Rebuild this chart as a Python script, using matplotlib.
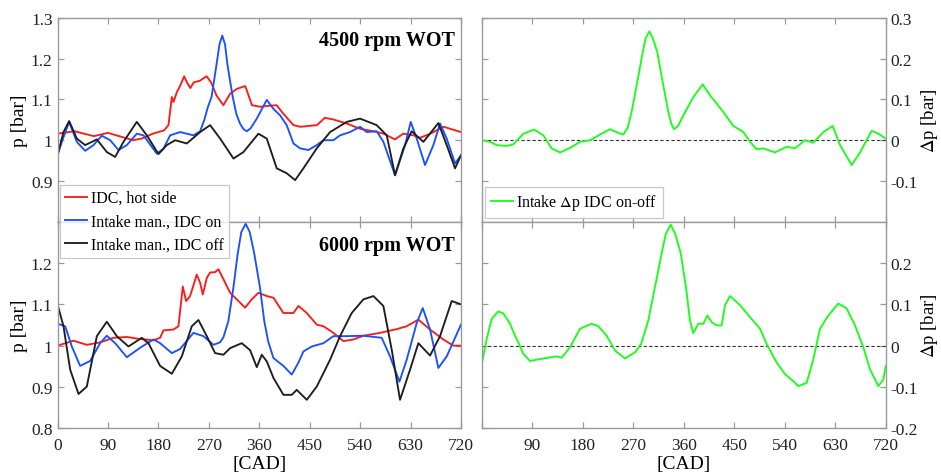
import matplotlib
matplotlib.use("Agg")
import matplotlib.pyplot as plt
from matplotlib.lines import Line2D

plt.rcParams['font.family'] = ['Liberation Serif', 'DejaVu Serif']
plt.rcParams['mathtext.fontset'] = 'stix'

# ---------------- data: 4500 rpm WOT ----------------
red45_x = [0, 30, 65, 90, 120, 135, 150, 170, 190, 198, 204, 207, 213, 219, 226, 231, 237, 243, 254, 266,
           274, 284, 296, 308, 320, 335, 347, 362, 373, 391, 403, 421, 433, 463, 477, 492, 516, 540, 564,
           582, 602, 617, 635, 647, 665, 689, 720]
red45_y = [1.016, 1.022, 1.010, 1.018, 1.006, 1.000, 1.004, 1.016, 1.024, 1.037, 1.106, 1.094, 1.118, 1.134,
           1.157, 1.142, 1.128, 1.142, 1.146, 1.157, 1.142, 1.109, 1.086, 1.114, 1.126, 1.133, 1.086, 1.082,
           1.084, 1.086, 1.065, 1.037, 1.033, 1.037, 1.055, 1.051, 1.041, 1.028, 1.022, 1.016, 1.002, 1.016,
           1.012, 1.006, 1.016, 1.033, 1.020]

blue45_x = [0, 7.7, 20.8, 34.5, 49.4, 64.2, 79, 94, 108.8, 123.7, 141.5, 153.4, 177.2, 189, 201, 218.8, 242.6,
            254.5, 262, 268, 275, 284, 289, 294, 299, 303, 308, 312.6, 319, 325.6, 332, 338, 345, 355.6,
            373.4, 385.3, 397.2, 409, 421, 432.9, 447.7, 462.6, 474.5, 492.3, 504.2, 522, 539.9, 551.8,
            569.6, 581.5, 602.3, 620.2, 630.3, 641, 655.8, 670.7, 682.6, 694.5, 709.4, 720]
blue45_y = [0.963, 0.996, 1.045, 0.996, 0.974, 0.988, 1.011, 1.000, 0.976, 0.988, 1.016, 1.012, 0.967, 0.979,
            1.012, 1.020, 1.012, 1.022, 1.050, 1.080, 1.107, 1.188, 1.235, 1.257, 1.235, 1.188, 1.145, 1.107,
            1.065, 1.041, 1.027, 1.022, 1.030, 1.053, 1.099, 1.077, 1.061, 1.037, 0.992, 0.980, 0.976, 0.988,
            1.000, 1.000, 1.012, 1.020, 1.033, 1.020, 1.022, 0.996, 0.914, 0.988, 1.045, 1.004, 0.939, 0.988,
            1.041, 1.004, 0.943, 0.963]

black45_x = [0, 10.7, 20.8, 34.5, 49.4, 70.2, 88, 102.9, 117.7, 141.5, 159.4, 180.2, 195, 209.9, 230.7, 254.5,
             272.3, 290.2, 314, 331.8, 358.5, 373.4, 391.2, 409, 424, 438.8, 462.6, 486.4, 516.1, 539.9,
             569.6, 587.5, 602.3, 617.2, 632, 652.9, 679.6, 694.5, 709.4, 720]
black45_y = [0.963, 1.020, 1.047, 1.004, 0.988, 1.002, 0.971, 0.959, 0.996, 1.045, 1.012, 0.966, 0.988, 1.000,
             0.992, 1.020, 1.037, 1.004, 0.955, 0.971, 1.016, 1.004, 0.931, 0.919, 0.902, 0.931, 0.980, 1.020,
             1.045, 1.053, 1.037, 1.012, 0.914, 0.980, 1.022, 0.996, 1.042, 0.988, 0.931, 0.963]

green45_x = [0, 14.9, 26.7, 44.6, 56.4, 74.3, 93.3, 109.9, 124.7, 139.6, 157.4, 175.2, 193, 210.9, 228.7, 243.5,
             252.5, 260, 267.3, 276.2, 287, 292, 298.7, 305, 313, 323.6, 332.6, 338, 342.7, 350, 359.4, 377.2,
             393.9, 406.9, 418.8, 430.7, 448.5, 466.3, 478.2, 490.1, 501.9, 522.7, 543.5, 558.4, 576.2, 591,
             608.9, 625.5, 638.6, 659.3, 674.2, 695, 706.9, 720]
green45_y = [0, -0.004, -0.012, -0.014, -0.010, 0.016, 0.026, 0.012, -0.020, -0.030, -0.019, -0.004, 0, 0.014,
             0.027, 0.018, 0.014, 0.030, 0.070, 0.135, 0.216, 0.250, 0.267, 0.250, 0.216, 0.135, 0.070, 0.040,
             0.027, 0.035, 0.061, 0.106, 0.137, 0.110, 0.090, 0.069, 0.035, 0.020, -0.004, -0.022, -0.020,
             -0.030, -0.016, -0.020, 0, -0.006, 0.020, 0.035, -0.012, -0.061, -0.030, 0.023, 0.016, 0.004]

# ---------------- data: 6000 rpm WOT ----------------
red60_x = [0, 28.5, 52.3, 76.1, 99.9, 123.7, 147.5, 171.2, 183.1, 189, 206.9, 215.8, 223.6, 229.5, 236.6, 248.5,
           254.5, 259.2, 266.4, 272.3, 281.2, 287.2, 293.1, 308, 319.9, 334.7, 346.6, 358.5, 373.4, 385.3,
           403.1, 421, 429.9, 444.8, 462.6, 474.5, 492.3, 510.2, 528, 545.8, 575.6, 605.3, 623.1, 643.9,
           664.8, 688.5, 706.4, 720]
red60_y = [1.000, 1.012, 1.002, 1.008, 1.019, 1.021, 1.016, 1.013, 1.019, 1.037, 1.039, 1.047, 1.143, 1.108,
           1.120, 1.172, 1.152, 1.124, 1.164, 1.177, 1.178, 1.185, 1.169, 1.128, 1.112, 1.092, 1.112, 1.128,
           1.120, 1.116, 1.079, 1.079, 1.096, 1.079, 1.051, 1.047, 1.031, 1.011, 1.015, 1.024, 1.031, 1.040,
           1.047, 1.063, 1.039, 1.015, 1.000, 1.000]

blue60_x = [0, 13.7, 25.6, 40.4, 58.3, 76.1, 88, 102.9, 123.7, 147.5, 171.2, 183.1, 204, 218.8, 242.6, 260.4,
            278.3, 290, 296, 304.8, 313.8, 321.5, 328, 335.8, 343, 351.2, 361.4, 369, 376, 385.3, 403.1, 418,
            429.9, 438.8, 453.7, 474.5, 492.3, 516.1, 545.8, 578.5, 593.4, 610.1, 623.1, 641, 651.7, 664.8,
            679.6, 694.5, 720]
blue60_y = [1.053, 1.047, 0.998, 0.951, 0.963, 1.006, 1.024, 1.006, 0.972, 0.995, 1.015, 1.006, 0.982, 0.992,
            1.031, 1.023, 1.002, 1.008, 1.020, 1.059, 1.140, 1.222, 1.275, 1.295, 1.275, 1.222, 1.140, 1.059,
            1.010, 0.970, 0.951, 0.930, 0.959, 0.986, 0.998, 1.006, 1.023, 1.023, 1.024, 1.019, 0.974, 0.913,
            0.966, 1.055, 1.091, 1.039, 0.946, 0.974, 1.051]

black60_x = [0, 10.7, 22.6, 37.5, 52.3, 70.2, 88, 105.8, 126.6, 150.4, 162.3, 183.1, 204, 221.8, 239.6, 251.5,
             266.4, 281.2, 296.1, 308, 328.8, 343.7, 355.6, 364.5, 373.4, 385.3, 403.1, 418, 426.9, 444.8,
             462.6, 486.4, 504.2, 525, 545.8, 563.7, 581.5, 596.4, 611.2, 629.1, 643.9, 664.8, 682.6, 703.4, 720]
black60_y = [1.100, 1.047, 0.942, 0.883, 0.901, 1.023, 1.058, 1.023, 0.998, 1.019, 1.006, 0.951, 0.932, 0.974,
             1.047, 1.062, 1.023, 0.982, 0.978, 0.994, 1.006, 0.989, 0.948, 0.978, 0.962, 0.922, 0.881, 0.881,
             0.893, 0.869, 0.901, 0.966, 1.023, 1.079, 1.112, 1.120, 1.096, 0.990, 0.869, 0.942, 1.006, 0.976,
             1.023, 1.108, 1.100]

green60_x = [0, 8.9, 17.8, 29.7, 38.6, 50.5, 59.4, 65.3, 74.3, 86.1, 109.9, 133.7, 142.6, 157.4, 175.2, 196,
             207.9, 222.8, 237.6, 255.4, 273.3, 284, 290, 296.9, 308.8, 320.8, 328, 336.8, 345, 354.7, 364,
             371.2, 377, 386.1, 395, 402.1, 409.9, 418.8, 427.7, 433.6, 442.5, 460.4, 478.2, 496, 507.9, 525.7,
             540.5, 555.4, 564.3, 579.2, 591, 602.9, 617.8, 635.6, 650.4, 665.3, 680.1, 692, 706.9, 715.8, 720]
green60_y = [-0.045, 0.016, 0.065, 0.083, 0.078, 0.053, 0.024, 0.008, -0.020, -0.037, -0.031, -0.026, -0.029,
             -0.004, 0.041, 0.053, 0.047, 0.024, -0.012, -0.031, -0.016, 0.004, 0.030, 0.061, 0.142, 0.224,
             0.270, 0.293, 0.270, 0.224, 0.142, 0.061, 0.030, 0.053, 0.053, 0.073, 0.057, 0.049, 0.049, 0.098,
             0.120, 0.098, 0.069, 0.041, 0.004, -0.041, -0.069, -0.086, -0.098, -0.090, -0.033, 0.041, 0.073,
             0.102, 0.090, 0.049, -0.004, -0.057, -0.098, -0.082, -0.049]

xticks = [0, 90, 180, 270, 360, 450, 540, 630, 720]
xticklabels = ['0', '90', '180', '270', '360', '450', '540', '630', '720']
xticklabels_right = ['', '90', '180', '270', '360', '450', '540', '630', '720']
yticks_top_l = [0.9, 1.0, 1.1, 1.2, 1.3]
yticklabels_top_l = ['0.9', '1', '1.1', '1.2', '1.3']
yticks_bot_l = [0.8, 0.9, 1.0, 1.1, 1.2]
yticklabels_bot_l = ['0.8', '0.9', '1', '1.1', '1.2']
yticks_top_r = [-0.1, 0, 0.1, 0.2, 0.3]
yticklabels_top_r = ['-0.1', '0', '0.1', '0.2', '0.3']
yticks_bot_r = [-0.2, -0.1, 0, 0.1, 0.2]
yticklabels_bot_r = ['-0.2', '-0.1', '0', '0.1', '0.2']

legend_labels = ['IDC, hot side', 'Intake man., IDC on', 'Intake man., IDC off']
green_label = 'Intake $\\Delta$p IDC on-off'

C_RED = '#ff1a1a'
C_BLUE = '#1a50ff'
C_BLACK = '#1e1e1e'
C_GREEN = '#1aff1a'
SPINE = '#9a9a9a'
LW = 1.35

fig = plt.figure(figsize=(9.41, 4.77), dpi=100)
W, H = 941, 477


def add_ax(x0, y0, x1, y1):
    return fig.add_axes([x0 / W, 1 - y1 / H, (x1 - x0) / W, (y1 - y0) / H])


axTL = add_ax(57.5, 19, 461, 222.7)
axBL = add_ax(57.5, 222.7, 461, 429.3)
axTR = add_ax(481.7, 19, 885.7, 222.7)
axBR = add_ax(481.7, 222.7, 885.7, 429.3)


def style(ax):
    for s in ax.spines.values():
        s.set_color(SPINE)
        s.set_linewidth(1.0)
    ax.tick_params(direction='in', top=True, bottom=True, left=True, right=True,
                   length=4, width=0.9, color=SPINE, labelsize=12.5, labelcolor='#222222')
    ax.tick_params(axis='x', pad=6)
    ax.set_xlim(0, 720)
    ax.set_xticks(xticks)


for ax in (axTL, axBL, axTR, axBR):
    style(ax)

# left top
axTL.plot(red45_x, red45_y, color=C_RED, lw=LW)
axTL.plot(blue45_x, blue45_y, color=C_BLUE, lw=LW)
axTL.plot(black45_x, black45_y, color=C_BLACK, lw=LW)
axTL.set_ylim(0.8, 1.3)
axTL.set_yticks(yticks_top_l)
axTL.set_yticklabels(yticklabels_top_l)
axTL.set_xticklabels([])
axTL.set_ylabel('p [bar]', fontsize=14, labelpad=2)
axTL.text(0.985, 0.89, '4500 rpm WOT', transform=axTL.transAxes, ha='right', va='center',
          fontsize=14.5, fontweight='bold')

# left bottom
axBL.plot(red60_x, red60_y, color=C_RED, lw=LW)
axBL.plot(blue60_x, blue60_y, color=C_BLUE, lw=LW)
axBL.plot(black60_x, black60_y, color=C_BLACK, lw=LW)
axBL.set_ylim(0.8, 1.3)
axBL.set_yticks(yticks_bot_l)
axBL.set_yticklabels(yticklabels_bot_l)
axBL.set_xticklabels(xticklabels)
axBL.set_xlabel('[CAD]', fontsize=14, labelpad=2)
axBL.set_ylabel('p [bar]', fontsize=14, labelpad=2)
axBL.text(0.985, 0.885, '6000 rpm WOT', transform=axBL.transAxes, ha='right', va='center',
          fontsize=14.5, fontweight='bold')

# right top
axTR.axhline(0, color='#333333', lw=0.8, ls=(0, (3, 2)))
axTR.plot(green45_x, green45_y, color=C_GREEN, lw=LW)
axTR.set_ylim(-0.2, 0.3)
axTR.set_yticks(yticks_top_r)
axTR.tick_params(labelleft=False, labelright=True)
axTR.set_yticklabels(yticklabels_top_r)
axTR.set_xticklabels([])
axTR.yaxis.set_label_position('right')
axTR.set_ylabel('$\\Delta$p [bar]', fontsize=13.5, labelpad=0.5)

# right bottom
axBR.axhline(0, color='#333333', lw=0.8, ls=(0, (3, 2)))
axBR.plot(green60_x, green60_y, color=C_GREEN, lw=LW)
axBR.set_ylim(-0.2, 0.3)
axBR.set_yticks(yticks_bot_r)
axBR.tick_params(labelleft=False, labelright=True)
axBR.set_yticklabels(yticklabels_bot_r)
axBR.set_xticklabels(xticklabels_right)
axBR.set_xlabel('[CAD]', fontsize=14, labelpad=2)
axBR.yaxis.set_label_position('right')
axBR.set_ylabel('$\\Delta$p [bar]', fontsize=13.5, labelpad=0.5)

# legends
handles = [Line2D([], [], color=C_RED, lw=LW), Line2D([], [], color=C_BLUE, lw=LW),
           Line2D([], [], color=C_BLACK, lw=LW)]
leg = fig.legend(handles, legend_labels, loc='upper left', bbox_to_anchor=(59.5 / W, 1 - 185.5 / H),
                 fontsize=11.5, frameon=True, fancybox=False, edgecolor='#bbbbbb',
                 handlelength=1.4, handletextpad=0.2, borderpad=0.35, labelspacing=0.45,
                 borderaxespad=0)
leg.get_frame().set_linewidth(0.9)

leg2 = axTR.legend([Line2D([], [], color=C_GREEN, lw=LW)], [green_label], loc='upper left',
                   bbox_to_anchor=(3.5 / 404, (222.7 - 187.5) / 203.7), fontsize=11.5, frameon=True,
                   fancybox=False, edgecolor='#bbbbbb', handlelength=1.4, handletextpad=0.2,
                   borderpad=0.35, borderaxespad=0)
leg2.get_frame().set_linewidth(0.9)

fig.savefig('out.png', dpi=100)
